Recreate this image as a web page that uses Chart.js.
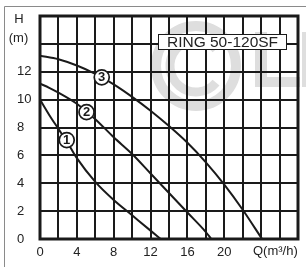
<!DOCTYPE html>
<html><head><meta charset="utf-8">
<script src="https://cdn.jsdelivr.net/npm/chart.js@4/dist/chart.umd.min.js"></script>
<style>html,body{margin:0;padding:0;background:#fff;}#wrap{width:306px;height:267px;}</style>
</head><body><div id="wrap"><canvas id="c" width="306" height="267"></canvas></div>
<script>
// Data (Q in m3/h, H in m)
const curve1Q = [0, 1, 2, 3, 4, 6, 8, 10, 12, 13.1];
const curve1H = [10, 8.9, 7.9, 6.9, 5.8, 4.1, 2.8, 1.7, 0.6, 0];
const curve2Q = [0, 1, 2, 4, 5, 6, 8, 10, 12, 14, 16, 18, 18.6];
const curve2H = [11.15, 10.85, 10.5, 9.7, 9.15, 8.6, 7.3, 6.1, 4.7, 3.3, 1.9, 0.5, 0];
const curve3Q = [0, 2, 4, 6, 8, 10, 12, 14, 16, 18, 20, 22, 24.1];
const curve3H = [13.15, 12.9, 12.45, 11.85, 11.1, 10.2, 9.2, 8.1, 6.9, 5.5, 3.9, 2.1, 0];
const curveNames = ['1', '2', '3'];
const markerQ = [2.9, 5.05, 6.7];
const markerH = [7.1, 9.1, 11.6];
const xTickLabels = [0, 4, 8, 12, 16, 20];
const yTickLabels = [0, 2, 4, 6, 8, 10, 12];
const modelName = 'RING 50-120SF';
const xAxisName = 'Q(m³/h)';
const yAxisName = ['H', '(m)'];

const toPts = (q, h) => q.map((v, i) => ({x: v, y: h[i]}));
const FONT = '"Liberation Sans", Arial, sans-serif';
const INK = '#1a1a1a';

const decor = {
  id: 'decor',
  beforeDraw(chart) {
    const ctx = chart.ctx;
    ctx.save();
    ctx.fillStyle = '#fff';
    ctx.fillRect(0, 0, chart.width, chart.height);
    // outer frame (top + left)
    ctx.strokeStyle = '#8a8a8a';
    ctx.lineWidth = 1;
    ctx.beginPath();
    ctx.moveTo(4.5, chart.height); ctx.lineTo(4.5, 6.5); ctx.lineTo(chart.width, 6.5);
    ctx.stroke();
    // watermark logo
    ctx.strokeStyle = '#dedede';
    ctx.fillStyle = '#dedede';
    ctx.lineWidth = 10;
    ctx.beginPath(); ctx.arc(196, 66, 40, 0, Math.PI * 2); ctx.stroke();
    ctx.lineWidth = 9;
    ctx.beginPath(); ctx.arc(196, 66, 26, Math.PI * 0.22, Math.PI * 1.78); ctx.stroke();
    ctx.fillRect(255, 32, 12, 55);
    ctx.fillRect(255, 77, 45, 10);
    ctx.fillRect(302, 32, 4, 55);
    ctx.restore();
  },
  afterDatasetsDraw(chart) {
    const ctx = chart.ctx;
    const a = chart.chartArea;
    const xs = chart.scales.x, ys = chart.scales.y;
    ctx.save();
    // thick plot frame
    ctx.strokeStyle = INK;
    ctx.lineWidth = 3;
    ctx.strokeRect(a.left, a.top, a.right - a.left, a.bottom - a.top);
    // curve markers
    curveNames.forEach((n, i) => {
      const px = xs.getPixelForValue(markerQ[i]);
      const py = ys.getPixelForValue(markerH[i]);
      ctx.beginPath();
      ctx.arc(px, py, 7.5, 0, Math.PI * 2);
      ctx.fillStyle = '#fff'; ctx.fill();
      ctx.lineWidth = 1.7; ctx.strokeStyle = INK; ctx.stroke();
      ctx.fillStyle = INK;
      ctx.font = 'bold 13px ' + FONT;
      ctx.textAlign = 'center'; ctx.textBaseline = 'middle';
      ctx.fillText(n, px, py + 0.5);
    });
    // model box
    ctx.fillStyle = '#fff';
    ctx.fillRect(158, 34, 129, 16);
    ctx.lineWidth = 1; ctx.strokeStyle = INK;
    ctx.strokeRect(158.5, 34.5, 128, 15);
    ctx.fillStyle = '#222';
    ctx.font = '15.5px ' + FONT;
    ctx.textAlign = 'center'; ctx.textBaseline = 'middle';
    ctx.fillText(modelName, 222.5, 42.5);
    // axis names
    ctx.font = '13px ' + FONT;
    ctx.fillStyle = '#222';
    ctx.fillText(yAxisName[0], 19, 19.5);
    ctx.fillText(yAxisName[1], 18.5, 38);
    ctx.textAlign = 'left';
    ctx.fillText(xAxisName, 253, 251.5);
    ctx.restore();
  }
};

new Chart(document.getElementById('c'), {
  type: 'line',
  data: {
    datasets: [
      {label: curveNames[0], data: toPts(curve1Q, curve1H)},
      {label: curveNames[1], data: toPts(curve2Q, curve2H)},
      {label: curveNames[2], data: toPts(curve3Q, curve3H)}
    ].map(d => Object.assign(d, {borderColor: INK, borderWidth: 2, pointRadius: 0, fill: false, cubicInterpolationMode: 'monotone'}))
  },
  options: {
    responsive: false,
    animation: false,
    devicePixelRatio: 1,
    layout: {padding: {left: 17, top: 16, right: 8, bottom: 0}},
    plugins: {legend: {display: false}, tooltip: {enabled: false}},
    scales: {
      x: {
        type: 'linear', min: 0, max: 28,
        afterFit(s) { s.height = 28; },
        grid: {color: INK, lineWidth: 2, drawTicks: false},
        border: {display: false},
        ticks: {
          stepSize: 2, autoSkip: false, maxRotation: 0, padding: 6,
          color: '#222', font: {family: FONT, size: 13},
          callback: v => xTickLabels.includes(v) ? String(v) : ''
        }
      },
      y: {
        type: 'linear', min: 0, max: 16,
        afterFit(s) { s.width = 23; },
        grid: {color: INK, lineWidth: 2, drawTicks: false},
        border: {display: false},
        ticks: {
          stepSize: 2, autoSkip: false, crossAlign: 'far', padding: 0,
          color: '#222', font: {family: FONT, size: 13},
          callback: v => yTickLabels.includes(v) ? String(v) : ''
        }
      }
    }
  },
  plugins: [decor]
});
</script></body></html>
